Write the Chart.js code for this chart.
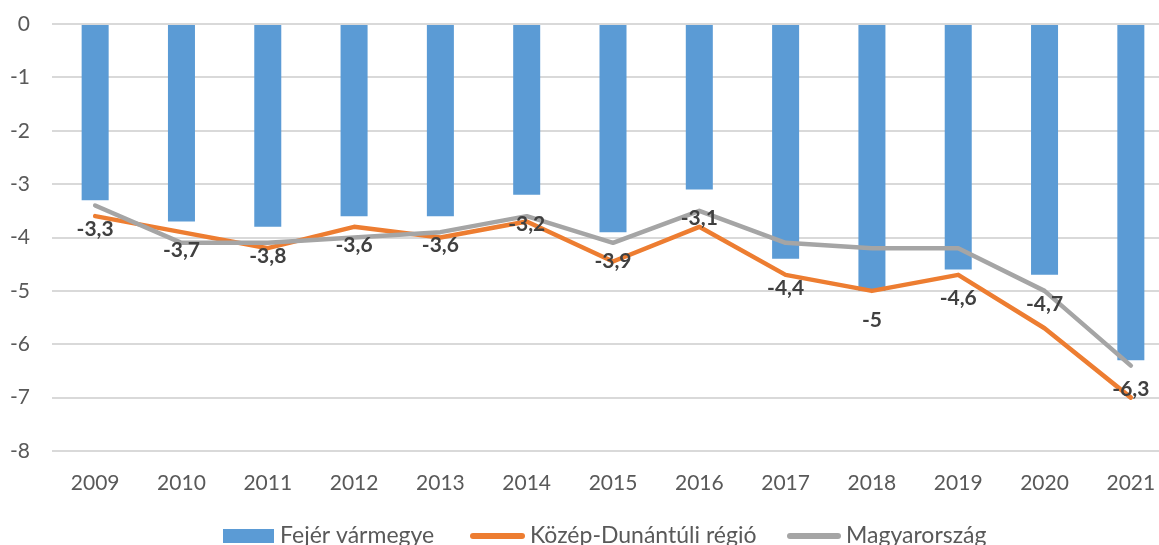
<!DOCTYPE html>
<html>
<head>
<meta charset="utf-8">
<script src="https://cdn.jsdelivr.net/npm/chart.js@4"></script>
<style>
  html, body { margin: 0; padding: 0; background: #fff; overflow: hidden; width: 1159px; height: 545px; }
  #wrap { position: absolute; left: 0; top: 0; width: 1174px; height: 545px; }
</style>
</head>
<body>
<div id="wrap"><canvas id="c"></canvas></div>
<script>
const years = ['2009','2010','2011','2012','2013','2014','2015','2016','2017','2018','2019','2020','2021'];
const fejer = [-3.3, -3.7, -3.8, -3.6, -3.6, -3.2, -3.9, -3.1, -4.4, -5, -4.6, -4.7, -6.3];
const kozepDunantul = [-3.6, -3.9, -4.2, -3.8, -4.0, -3.7, -4.45, -3.8, -4.7, -5.0, -4.7, -5.7, -7.0];
const magyarorszag = [-3.4, -4.1, -4.1, -4.0, -3.9, -3.6, -4.1, -3.5, -4.1, -4.2, -4.2, -5.0, -6.4];
const seriesNames = ['Fejér vármegye', 'Közép-Dunántúli régió', 'Magyarország'];
const yTicks = [0, -1, -2, -3, -4, -5, -6, -7, -8];

const FONT = 'Lato, "Open Sans", sans-serif';

const barLabels = {
  id: 'barLabels',
  afterDatasetsDraw(chart) {
    const ctx = chart.ctx;
    const meta = chart.getDatasetMeta(0);
    ctx.save();
    ctx.font = 'bold 21px ' + FONT;
    ctx.fillStyle = '#404040';
    ctx.textAlign = 'center';
    ctx.textBaseline = 'middle';
    meta.data.forEach((el, i) => {
      const v = chart.data.datasets[0].data[i];
      ctx.fillText(String(v).replace('.', ','), el.x, el.y + 29);
    });
    ctx.restore();
  }
};

// legend drawn in the style of the original (marker left, text right)
const bottomLegend = {
  id: 'bottomLegend',
  afterDraw(chart) {
    const ctx = chart.ctx;
    const cy = 536;
    const items = [
      { x0: 223, x1: 274, tx: 280 },
      { x0: 470, x1: 525, tx: 530 },
      { x0: 787, x1: 841, tx: 846 }
    ];
    ctx.save();
    chart.data.datasets.forEach((ds, i) => {
      const it = items[i];
      if (ds.type === 'bar') {
        ctx.fillStyle = ds.backgroundColor;
        ctx.fillRect(it.x0, cy - 7, it.x1 - it.x0, 14);
      } else {
        ctx.strokeStyle = ds.borderColor;
        ctx.lineWidth = 6;
        ctx.lineCap = 'round';
        ctx.beginPath();
        ctx.moveTo(it.x0 + 3, cy);
        ctx.lineTo(it.x1 - 3, cy);
        ctx.stroke();
      }
      ctx.font = '23px ' + FONT;
      ctx.fillStyle = '#595959';
      ctx.textAlign = 'left';
      ctx.textBaseline = 'middle';
      ctx.fillText(ds.label, it.tx, cy);
    });
    ctx.restore();
  }
};

new Chart(document.getElementById('c'), {
  data: {
    labels: years,
    datasets: [
      { type: 'bar', label: seriesNames[0], data: fejer, backgroundColor: '#5B9BD5', order: 3,
        categoryPercentage: 1, barPercentage: 0.313 },
      { type: 'line', label: seriesNames[1], data: kozepDunantul, borderColor: '#ED7D31', backgroundColor: '#ED7D31',
        borderWidth: 4.5, pointRadius: 0, tension: 0, borderJoinStyle: 'round', borderCapStyle: 'round', order: 2 },
      { type: 'line', label: seriesNames[2], data: magyarorszag, borderColor: '#A5A5A5', backgroundColor: '#A5A5A5',
        borderWidth: 4.5, pointRadius: 0, tension: 0, borderJoinStyle: 'round', borderCapStyle: 'round', order: 1 }
    ]
  },
  options: {
    responsive: true,
    maintainAspectRatio: false,
    animation: false,
    layout: { padding: { top: 24, left: 0, right: 0, bottom: 50 } },
    plugins: {
      tooltip: { enabled: false },
      legend: { display: false }
    },
    scales: {
      x: {
        offset: true,
        grid: { display: false },
        border: { display: false },
        afterFit(scale) { scale.height = 44; scale.paddingLeft = 0; scale.paddingRight = 0; },
        ticks: { font: { family: FONT, size: 21 }, color: '#595959', padding: 12 }
      },
      y: {
        min: -8, max: 0,
        afterBuildTicks(scale) { scale.ticks = yTicks.map(v => ({ value: v })); },
        afterFit(scale) { scale.width = 52; scale.paddingTop = 0; scale.paddingBottom = 0; },
        grid: { color: '#D9D9D9', lineWidth: 2, drawTicks: false },
        border: { display: false },
        ticks: { font: { family: FONT, size: 21 }, color: '#595959', padding: 22,
                 callback: v => String(v) }
      }
    }
  },
  plugins: [barLabels, bottomLegend]
});
</script>
</body>
</html>
